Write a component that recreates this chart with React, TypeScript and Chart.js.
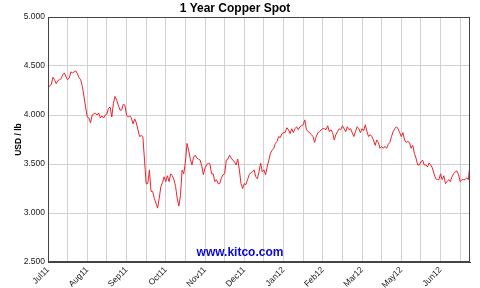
import { useEffect, useRef } from 'react';
import { Chart, registerables } from 'chart.js';

Chart.register(...registerables);

const chartTitle = '1 Year Copper Spot';
const yAxisTitle = 'USD / lb';
const watermark = 'www.kitco.com';

// x tick labels (one every labelStep trading days), vertical grid every gridStep days
const monthLabels = ['Jul11', 'Aug11', 'Sep11', 'Oct11', 'Nov11', 'Dec11', 'Jan12', 'Feb12', 'Mar12', 'May12', 'Jun12'];
const gridStep = 12;
const labelStep = 24;

const yMin = 2.5;
const yMax = 5.0;
const yStep = 0.5;

// daily copper spot price, USD / lb
const prices = [
  4.27, 4.30, 4.31, 4.385, 4.36, 4.32, 4.35, 4.36, 4.37, 4.41,
  4.43, 4.39, 4.36, 4.38, 4.44, 4.43, 4.44, 4.45, 4.42, 4.38,
  4.36, 4.29, 4.19, 4.08, 3.98, 3.97, 3.92, 4.00, 4.01, 4.02,
  4.00, 4.02, 3.97, 3.99, 3.97, 4.00, 4.01, 4.07, 4.08, 3.98,
  4.12, 4.19, 4.15, 4.10, 4.05, 4.05, 4.11, 4.10, 4.00, 3.98,
  3.99, 3.97, 3.91, 3.96, 3.92, 3.85, 3.78, 3.79, 3.78,
  3.54, 3.30, 3.30, 3.44, 3.22, 3.22, 3.15, 3.10, 3.05, 3.15,
  3.27, 3.31, 3.37, 3.32, 3.38, 3.32, 3.40, 3.38, 3.34, 3.27,
  3.15, 3.07, 3.18, 3.44, 3.40, 3.52, 3.71, 3.64, 3.55, 3.49,
  3.57, 3.59, 3.56, 3.55, 3.54, 3.48, 3.39, 3.46, 3.49, 3.51, 3.50,
  3.40, 3.40, 3.32, 3.34, 3.30, 3.30, 3.36, 3.39, 3.40, 3.54,
  3.55, 3.59, 3.56, 3.54, 3.52, 3.49, 3.55, 3.44,
  3.30, 3.25, 3.30, 3.29, 3.34, 3.39, 3.41, 3.42, 3.44, 3.37,
  3.35, 3.42, 3.51, 3.42, 3.44, 3.39, 3.47, 3.54, 3.61, 3.64,
  3.66, 3.71,
  3.73, 3.78, 3.77, 3.81, 3.82, 3.82, 3.87, 3.85, 3.81, 3.86,
  3.82, 3.86, 3.88, 3.85, 3.88, 3.89, 3.90, 3.95, 3.85, 3.83,
  3.82, 3.80, 3.78, 3.72, 3.78, 3.82, 3.83, 3.85, 3.86, 3.86,
  3.85, 3.89, 3.83, 3.85, 3.82, 3.745, 3.80, 3.83, 3.86, 3.85,
  3.89, 3.86, 3.83, 3.88, 3.85, 3.86, 3.82, 3.78, 3.83, 3.88,
  3.86, 3.82, 3.86, 3.84, 3.90, 3.83, 3.78, 3.80, 3.78, 3.745,
  3.69, 3.745, 3.72, 3.66, 3.68, 3.66, 3.68, 3.66, 3.70, 3.72,
  3.78, 3.83, 3.86, 3.88, 3.86, 3.82, 3.78, 3.82, 3.745,
  3.72, 3.73, 3.72, 3.66,
  3.69, 3.61, 3.56, 3.49, 3.49, 3.52, 3.54, 3.49, 3.49, 3.47,
  3.51, 3.49, 3.46, 3.40, 3.35, 3.34, 3.34, 3.40, 3.34, 3.38,
  3.30, 3.32, 3.34, 3.32, 3.37, 3.40, 3.42, 3.43, 3.39, 3.32,
  3.34, 3.34, 3.34, 3.36, 3.34, 3.51,
];

const FONT = "'Liberation Sans', Arial, sans-serif";
const GRID = '#d2d2d2';
const FRAME = '#444444';
const TEXT = '#1a1a1a';

const framePlugin = {
  id: 'frame',
  afterDatasetsDraw(chart: any) {
    const { ctx, chartArea: a } = chart;
    ctx.save();
    ctx.strokeStyle = FRAME;
    ctx.lineWidth = 1;
    const l = Math.round(a.left) + 0.5;
    const t = Math.round(a.top) + 0.5;
    const r = Math.round(a.right) - 0.5;
    const b = Math.round(a.bottom) - 0.5;
    ctx.strokeRect(l, t, r - l, b - t);
    ctx.restore();
  },
};

const watermarkPlugin = {
  id: 'watermark',
  afterDraw(chart: any) {
    const { ctx, chartArea: a } = chart;
    ctx.save();
    ctx.font = `bold 12px ${FONT}`;
    ctx.fillStyle = '#0a0ad2';
    ctx.textAlign = 'center';
    ctx.textBaseline = 'middle';
    ctx.fillText(watermark, chart.width / 2, a.bottom - 9);
    ctx.restore();
  },
};

export default function App() {
  const ref = useRef<HTMLCanvasElement | null>(null);

  useEffect(() => {
    if (!ref.current) return;
    const chart = new Chart(ref.current, {
      type: 'line',
      data: {
        datasets: [
          {
            data: prices.map((p, i) => ({ x: i, y: p })),
            borderColor: 'rgb(238, 34, 42)',
            borderWidth: 1,
            pointRadius: 0,
            tension: 0,
            fill: false,
          },
        ],
      },
      options: {
        animation: false,
        responsive: false,
        devicePixelRatio: 1,
        layout: { padding: { left: 0, right: 10, top: 0, bottom: 0 } },
        plugins: {
          legend: { display: false },
          tooltip: { enabled: false },
          title: {
            display: true,
            text: chartTitle,
            color: '#000',
            font: { family: FONT, size: 12, weight: 'bold' },
            padding: { top: 1, bottom: 1.6 },
          },
        },
        scales: {
          x: {
            type: 'linear',
            min: 0,
            max: prices.length - 1,
            afterBuildTicks: (s: any) => {
              const t = [];
              for (let v = 0; v <= s.max; v += gridStep) t.push({ value: v });
              s.ticks = t;
            },
            afterFit: (s: any) => {
              s.height = 26;
            },
            grid: { color: GRID, lineWidth: 1, drawTicks: false },
            border: { color: FRAME, width: 1 },
            ticks: {
              autoSkip: false,
              maxRotation: 45,
              minRotation: 45,
              padding: 3,
              color: TEXT,
              font: { family: FONT, size: 8.5 },
              callback: (v: any) => {
                const n = Number(v);
                return n % labelStep === 0 ? monthLabels[n / labelStep] ?? '' : '';
              },
            },
          },
          y: {
            min: yMin,
            max: yMax,
            afterFit: (s: any) => {
              s.width = 48;
            },
            title: {
              display: true,
              text: yAxisTitle,
              color: '#000',
              font: { family: FONT, size: 8.5, weight: 'bold' },
              padding: { top: 14, bottom: 0 },
            },
            grid: { color: GRID, lineWidth: 1, drawTicks: false },
            border: { color: FRAME, width: 1 },
            ticks: {
              stepSize: yStep,
              padding: 3,
              color: TEXT,
              font: { family: FONT, size: 8.5 },
              callback: (v: any) => Number(v).toFixed(3),
            },
          },
        },
      },
      plugins: [framePlugin, watermarkPlugin],
    });
    return () => chart.destroy();
  }, []);

  return (
    <div style={{ position: 'fixed', left: 0, top: 0, width: 480, height: 288, background: '#fff' }}>
      <canvas ref={ref} width={480} height={288} style={{ display: 'block', width: 480, height: 288 }} />
    </div>
  );
}
